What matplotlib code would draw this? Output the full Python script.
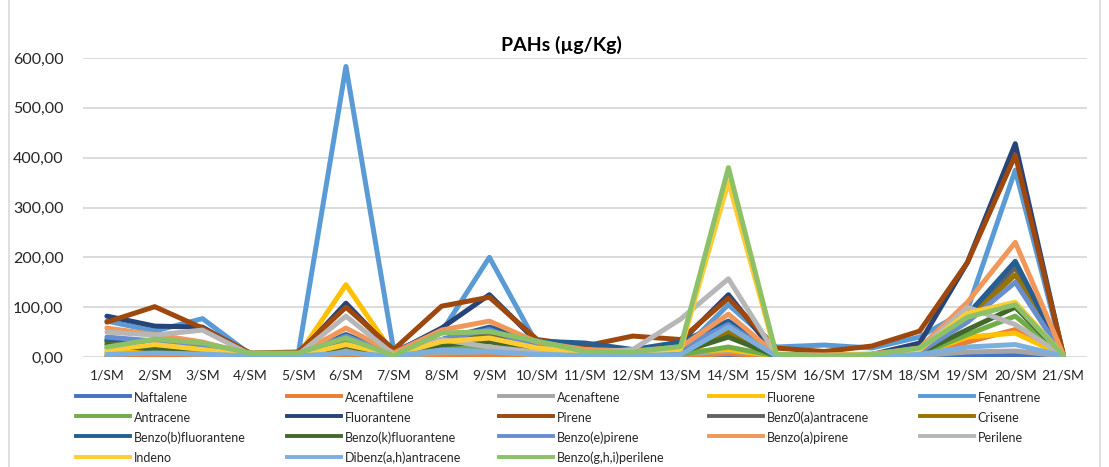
import matplotlib
matplotlib.use("Agg")
import matplotlib.pyplot as plt
from matplotlib.lines import Line2D
from matplotlib.ticker import FuncFormatter

plt.rcParams['font.family'] = ['Lato', 'DejaVu Sans']

#DATA-----------------------------------------------------------------------------------------------
stations = ["%d/SM" % i for i in range(1, 22)]

naftalene = [2, 3, 3, 1, 1, 5, 1, 3, 3, 2, 2, 2, 2, 3, 1, 1, 1, 1, 3, 3, 1]
acenaftilene = [1, 1, 1, 0, 0, 2, 0, 1, 1, 1, 1, 1, 1, 7, 0, 0, 0, 2, 30, 55, 2]
acenaftene = [10, 8, 6, 2, 2, 12, 2, 8, 10, 5, 4, 5, 5, 12, 2, 2, 2, 3, 10, 12, 2]
fluorene = [8, 12, 8, 3, 3, 145, 5, 18, 20, 10, 5, 8, 10, 15, 2, 2, 3, 5, 40, 48, 3]
fenantrene = [72, 52, 77, 5, 5, 583, 12, 50, 200, 25, 15, 12, 10, 105, 20, 24, 18, 40, 95, 375, 5]
antracene = [18, 20, 15, 3, 3, 30, 3, 15, 20, 10, 5, 5, 5, 20, 2, 2, 3, 5, 45, 82, 3]
fluorantene = [82, 62, 60, 5, 5, 108, 8, 58, 125, 30, 26, 12, 30, 125, 5, 4, 5, 28, 190, 428, 5]
pirene = [70, 101, 58, 8, 10, 100, 15, 102, 120, 35, 22, 42, 35, 118, 18, 11, 22, 52, 190, 405, 8]
benz_a_antracene = [30, 25, 20, 4, 4, 40, 5, 30, 45, 15, 10, 10, 15, 45, 3, 3, 5, 10, 80, 180, 5]
crisene = [32, 25, 20, 4, 4, 38, 5, 28, 40, 15, 10, 10, 15, 50, 3, 3, 5, 10, 75, 165, 5]
benzo_b_fluorantene = [35, 30, 25, 5, 5, 45, 6, 35, 60, 32, 28, 15, 30, 72, 4, 3, 5, 12, 85, 192, 5]
benzo_k_fluorantene = [25, 15, 12, 3, 3, 22, 4, 24, 31, 12, 8, 8, 10, 40, 2, 2, 3, 8, 55, 100, 3]
benzo_e_pirene = [40, 32, 25, 4, 4, 42, 5, 35, 55, 20, 12, 10, 18, 65, 3, 3, 5, 10, 70, 150, 4]
benzo_a_pirene = [58, 45, 30, 5, 5, 58, 8, 54, 72, 30, 15, 12, 20, 86, 5, 4, 6, 18, 110, 230, 6]
perilene = [50, 44, 54, 5, 5, 82, 5, 35, 20, 10, 8, 15, 76, 157, 4, 3, 4, 15, 100, 65, 4]
indeno = [14, 25, 15, 3, 3, 25, 4, 31, 38, 18, 10, 10, 15, 352, 3, 3, 5, 15, 88, 110, 4]
dibenz_ah_antracene = [5, 8, 6, 2, 2, 8, 2, 14, 11, 5, 3, 3, 5, 60, 2, 2, 2, 5, 20, 25, 2]
benzo_ghi_perilene = [20, 36, 28, 8, 8, 38, 3, 48, 51, 32, 11, 10, 21, 380, 6, 2, 5, 18, 80, 105, 4]

names = ["Naftalene", "Acenaftilene", "Acenaftene", "Fluorene", "Fenantrene",
         "Antracene", "Fluorantene", "Pirene", "Benz0(a)antracene", "Crisene",
         "Benzo(b)fluorantene", "Benzo(k)fluorantene", "Benzo(e)pirene", "Benzo(a)pirene", "Perilene",
         "Indeno", "Dibenz(a,h)antracene", "Benzo(g,h,i)perilene"]
series = [naftalene, acenaftilene, acenaftene, fluorene, fenantrene,
          antracene, fluorantene, pirene, benz_a_antracene, crisene,
          benzo_b_fluorantene, benzo_k_fluorantene, benzo_e_pirene, benzo_a_pirene, perilene,
          indeno, dibenz_ah_antracene, benzo_ghi_perilene]
colors = ["#4472C4", "#ED7D31", "#A5A5A5", "#FFC000", "#5B9BD5",
          "#70AD47", "#264478", "#9E480E", "#636363", "#997300",
          "#255E91", "#43682B", "#698ED0", "#F1975A", "#B7B7B7",
          "#FFCD33", "#7CAFDD", "#8CC168"]

#LAYOUT---------------------------------------------------------------------------------------------
W, H = 1109, 467
fig = plt.figure(figsize=(W / 100, H / 100), dpi=100)
ax = fig.add_axes([83 / W, (H - 357) / H, (1087 - 83) / W, (357 - 58) / H])

x = range(len(stations))
for vals, name, col in zip(series, names, colors):
    ax.plot(x, vals, color=col, lw=3.6, label=name,
            solid_joinstyle='round', solid_capstyle='round')

ax.set_xlim(-0.5, len(stations) - 0.5)
ax.set_ylim(0, 600)
ax.set_yticks(range(0, 601, 100))
ax.yaxis.set_major_formatter(FuncFormatter(lambda v, p: ("%.2f" % v).replace('.', ',')))
ax.set_xticks(list(x))
ax.set_xticklabels(stations)
ax.grid(axis='y', color='#D9D9D9', lw=1.3)
ax.set_axisbelow(True)
for s in ax.spines.values():
    s.set_visible(False)
ax.tick_params(axis='both', length=0, colors='#262626')
ax.tick_params(axis='y', pad=14, labelsize=11.5)
ax.tick_params(axis='x', pad=9, labelsize=10)

fig.text(561 / W, 1 - 45 / H, "PAHs (µg/Kg)", ha='center', va='center',
         fontsize=14, fontweight='bold', color='#000000')

#Legend built column by column so the columns are evenly spaced
col_text_x = [134, 345, 557, 767, 978]
for c in range(5):
    idx = list(range(c, len(names), 5))
    handles = [Line2D([], [], color=colors[i], lw=2.8) for i in idx]
    labels = [names[i] for i in idx]
    fig.legend(handles, labels, loc='upper left',
               bbox_to_anchor=((col_text_x[c] - 58) / W, 1 - 391 / H),
               frameon=False, fontsize=9, handlelength=4.3, handletextpad=0.32,
               handleheight=1.2, borderpad=0, borderaxespad=0, labelspacing=0.58,
               labelcolor='#262626')

#chart border
fig.add_artist(Line2D([9 / W, 9 / W], [0, 1], color='#D9D9D9', lw=1.2))
fig.add_artist(Line2D([1100 / W, 1100 / W], [0, 1], color='#D9D9D9', lw=1.2))

fig.savefig("out.png", dpi=100)
